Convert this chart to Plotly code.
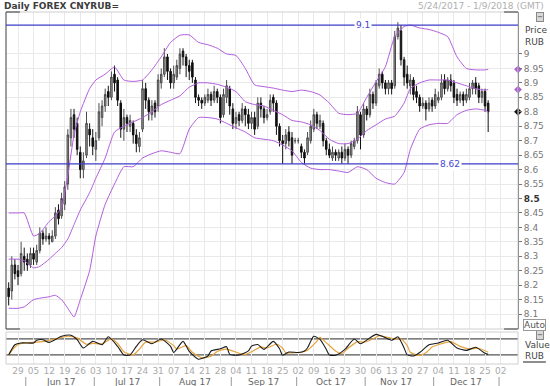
import plotly.graph_objects as go
import pandas as pd

TITLE = "Daily FOREX CNYRUB="
RANGE_TEXT = "5/24/2017 - 1/9/2018 (GMT)"

# trading days 24 May 2017 .. 26 Dec 2017
DATES = pd.bdate_range("2017-05-24", "2017-12-26")

OPEN = [8.19, 8.18, 8.27, 8.25, 8.24, 8.30, 8.29, 8.27, 8.31, 8.28,
        8.32, 8.38, 8.36, 8.37, 8.35, 8.37, 8.46, 8.44, 8.48, 8.55,
        8.71, 8.79, 8.76, 8.66, 8.60, 8.65, 8.74, 8.71, 8.67, 8.71,
        8.78, 8.82, 8.87, 8.85, 8.93, 8.91, 8.83, 8.74, 8.78, 8.75,
        8.76, 8.72, 8.68, 8.74, 8.88, 8.84, 8.79, 8.83, 8.82, 8.90,
        8.93, 8.99, 8.94, 8.90, 8.92, 8.95, 9.01, 8.99, 8.96, 8.97,
        8.91, 8.85, 8.84, 8.83, 8.84, 8.86, 8.84, 8.87, 8.85, 8.79,
        8.85, 8.88, 8.81, 8.76, 8.79, 8.77, 8.81, 8.79, 8.76, 8.78,
        8.75, 8.83, 8.81, 8.78, 8.80, 8.85, 8.83, 8.75, 8.70, 8.69,
        8.73, 8.71, 8.70, 8.70, 8.68, 8.66, 8.66, 8.70, 8.74, 8.79,
        8.75, 8.76, 8.70, 8.67, 8.64, 8.66, 8.64, 8.66, 8.64, 8.67,
        8.65, 8.68, 8.70, 8.79, 8.72, 8.81, 8.79, 8.86, 8.83, 8.89,
        8.93, 8.90, 8.88, 8.90, 8.89, 9.06, 9.08, 8.98, 8.93, 8.89,
        8.91, 8.87, 8.85, 8.82, 8.83, 8.81, 8.84, 8.82, 8.84, 8.85,
        8.91, 8.88, 8.91, 8.90, 8.86, 8.84, 8.86, 8.84, 8.85, 8.88,
        8.90, 8.89, 8.85, 8.87, 8.83]
HIGH = [8.21, 8.30, 8.29, 8.27, 8.35, 8.33, 8.31, 8.33, 8.33, 8.34,
        8.40, 8.39, 8.40, 8.38, 8.39, 8.47, 8.48, 8.52, 8.56, 8.74,
        8.81, 8.81, 8.78, 8.68, 8.66, 8.80, 8.76, 8.74, 8.73, 8.83,
        8.84, 8.88, 8.89, 8.94, 8.96, 8.92, 8.84, 8.81, 8.79, 8.79,
        8.77, 8.74, 8.73, 8.91, 8.90, 8.85, 8.84, 8.84, 8.93, 8.95,
        9.02, 9.00, 8.95, 8.96, 8.98, 9.02, 9.02, 9.00, 8.98, 8.98,
        8.92, 8.86, 8.85, 8.86, 8.88, 8.87, 8.89, 8.88, 8.86, 8.88,
        8.91, 8.89, 8.83, 8.80, 8.80, 8.83, 8.82, 8.81, 8.80, 8.80,
        8.85, 8.85, 8.82, 8.81, 8.86, 8.86, 8.84, 8.76, 8.72, 8.74,
        8.75, 8.73, 8.71, 8.71, 8.69, 8.67, 8.73, 8.77, 8.81, 8.80,
        8.79, 8.77, 8.71, 8.69, 8.68, 8.67, 8.67, 8.68, 8.69, 8.68,
        8.70, 8.71, 8.82, 8.80, 8.83, 8.82, 8.88, 8.87, 8.91, 8.95,
        8.94, 8.91, 8.91, 8.91, 9.08, 9.11, 9.10, 8.99, 8.96, 8.93,
        8.92, 8.89, 8.86, 8.85, 8.84, 8.85, 8.85, 8.88, 8.87, 8.93,
        8.93, 8.92, 8.93, 8.91, 8.88, 8.87, 8.87, 8.88, 8.90, 8.91,
        8.92, 8.90, 8.88, 8.88, 8.84]
LOW = [8.13, 8.15, 8.22, 8.20, 8.23, 8.25, 8.25, 8.26, 8.27, 8.27,
       8.31, 8.34, 8.35, 8.34, 8.35, 8.36, 8.41, 8.43, 8.46, 8.53,
       8.68, 8.71, 8.65, 8.57, 8.57, 8.64, 8.68, 8.65, 8.63, 8.70,
       8.75, 8.80, 8.82, 8.84, 8.87, 8.82, 8.71, 8.70, 8.73, 8.73,
       8.69, 8.66, 8.66, 8.73, 8.81, 8.77, 8.77, 8.78, 8.80, 8.88,
       8.92, 8.91, 8.88, 8.88, 8.91, 8.93, 8.96, 8.92, 8.91, 8.90,
       8.83, 8.82, 8.81, 8.82, 8.83, 8.82, 8.83, 8.83, 8.76, 8.78,
       8.83, 8.79, 8.74, 8.74, 8.75, 8.76, 8.75, 8.74, 8.74, 8.72,
       8.74, 8.78, 8.76, 8.77, 8.79, 8.80, 8.72, 8.68, 8.62, 8.67,
       8.68, 8.62, 8.69, 8.69, 8.64, 8.62, 8.65, 8.69, 8.73, 8.74,
       8.74, 8.68, 8.65, 8.64, 8.63, 8.63, 8.63, 8.62, 8.63, 8.62,
       8.64, 8.67, 8.69, 8.67, 8.71, 8.77, 8.78, 8.81, 8.82, 8.88,
       8.88, 8.86, 8.86, 8.86, 8.88, 9.05, 8.96, 8.89, 8.88, 8.86,
       8.84, 8.83, 8.80, 8.81, 8.77, 8.80, 8.80, 8.81, 8.83, 8.84,
       8.86, 8.87, 8.87, 8.83, 8.82, 8.83, 8.82, 8.83, 8.84, 8.86,
       8.86, 8.83, 8.83, 8.80, 8.73]
CLOSE = [8.16, 8.27, 8.24, 8.23, 8.31, 8.28, 8.27, 8.31, 8.29, 8.32,
         8.38, 8.36, 8.37, 8.36, 8.37, 8.45, 8.43, 8.50, 8.54, 8.72,
         8.78, 8.74, 8.67, 8.60, 8.63, 8.76, 8.72, 8.68, 8.70, 8.80,
         8.82, 8.86, 8.85, 8.92, 8.90, 8.84, 8.74, 8.78, 8.76, 8.77,
         8.72, 8.69, 8.71, 8.88, 8.84, 8.80, 8.82, 8.80, 8.91, 8.93,
         8.99, 8.94, 8.90, 8.93, 8.96, 9.00, 8.99, 8.96, 8.94, 8.92,
         8.85, 8.84, 8.83, 8.85, 8.86, 8.84, 8.87, 8.85, 8.78, 8.86,
         8.89, 8.82, 8.76, 8.78, 8.77, 8.81, 8.79, 8.76, 8.78, 8.74,
         8.83, 8.81, 8.78, 8.79, 8.84, 8.83, 8.75, 8.70, 8.69, 8.72,
         8.70, 8.65, 8.70, 8.70, 8.66, 8.64, 8.71, 8.75, 8.79, 8.76,
         8.77, 8.70, 8.67, 8.65, 8.66, 8.65, 8.66, 8.64, 8.67, 8.65,
         8.69, 8.70, 8.80, 8.72, 8.81, 8.79, 8.86, 8.83, 8.90, 8.93,
         8.90, 8.88, 8.90, 8.88, 9.06, 9.09, 8.98, 8.92, 8.90, 8.91,
         8.86, 8.85, 8.82, 8.83, 8.81, 8.83, 8.82, 8.86, 8.85, 8.90,
         8.88, 8.91, 8.89, 8.85, 8.84, 8.86, 8.84, 8.86, 8.88, 8.90,
         8.88, 8.85, 8.87, 8.82, 8.80]

# Bollinger bands, read at sample trading days (index into DATES)
BAND_IDX = [0, 3, 5, 8, 10, 13, 15, 17, 19, 21, 23, 26, 28, 31, 34, 37, 40, 43, 46, 49,
            52, 55, 58, 61, 64, 67, 70, 73, 76, 79, 82, 85, 88, 91, 94, 97, 100, 103, 106, 109,
            112, 115, 118, 121, 124, 127, 129, 132, 135, 138, 141, 144, 147, 150, 153, 154]
BB_UPPER = [8.45, 8.45, 8.45, 8.37, 8.38, 8.42, 8.44, 8.47, 8.58, 8.72,
            8.80, 8.88, 8.91, 8.93, 8.955, 8.91, 8.905, 8.91, 8.945, 8.99,
            9.04, 9.065, 9.066, 9.04, 9.032, 9.02, 9.00, 8.995, 8.95, 8.893,
            8.887, 8.882, 8.875, 8.87, 8.875, 8.87, 8.858, 8.83, 8.795, 8.79,
            8.795, 8.85, 8.904, 8.956, 9.06, 9.095, 9.10, 9.09, 9.085, 9.075,
            9.06, 8.99, 8.95, 8.945, 8.945, 8.947]
BB_MID = [8.29, 8.29, 8.285, 8.26, 8.265, 8.29, 8.31, 8.33, 8.36, 8.41,
          8.46, 8.52, 8.57, 8.64, 8.73, 8.75, 8.765, 8.78, 8.80, 8.825,
          8.84, 8.855, 8.885, 8.90, 8.90, 8.895, 8.885, 8.87, 8.835, 8.825,
          8.82, 8.805, 8.79, 8.77, 8.765, 8.755, 8.735, 8.705, 8.69, 8.69,
          8.705, 8.735, 8.755, 8.775, 8.785, 8.83, 8.88, 8.90, 8.91, 8.91,
          8.91, 8.90, 8.89, 8.88, 8.875, 8.877]
BB_LOWER = [8.12, 8.12, 8.125, 8.15, 8.155, 8.16, 8.165, 8.15, 8.12, 8.09,
            8.15, 8.25, 8.37, 8.48, 8.55, 8.61, 8.61, 8.64, 8.655, 8.665,
            8.66, 8.655, 8.74, 8.78, 8.78, 8.775, 8.76, 8.745, 8.73, 8.71,
            8.705, 8.70, 8.685, 8.665, 8.625, 8.605, 8.60, 8.60, 8.595, 8.59,
            8.61, 8.60, 8.57, 8.555, 8.55, 8.59, 8.67, 8.74, 8.755, 8.76,
            8.76, 8.79, 8.805, 8.81, 8.805, 8.80]

# Stochastic oscillator (%K black, %D orange)
K_IDX = [0, 2, 4, 8, 9, 11, 13, 17, 20, 22, 24, 27, 30, 32, 35, 37, 39, 41, 43, 46,
         49, 52, 53, 56, 58, 61, 64, 65, 68, 70, 71, 74, 77, 78, 80, 82, 85, 87, 88, 90,
         93, 95, 96, 98, 100, 102, 103, 105, 108, 111, 113, 116, 118, 120, 123, 125, 127, 128, 130, 132,
         135, 138, 141, 144, 147, 150, 153, 154]
K_VAL = [20, 58, 65, 65, 75, 77, 67, 90, 94, 77, 46, 71, 58, 88, 52, 20, 20, 52, 77, 62,
         80, 52, 29, 71, 33, 4, 16, 35, 43, 51, 22, 20, 35, 53, 59, 41, 71, 43, 19, 31,
         29, 35, 47, 90, 78, 41, 20, 19, 41, 80, 62, 84, 97, 90, 75, 88, 46, 20, 16, 29,
         58, 65, 75, 46, 37, 49, 26, 22]
D_IDX = [0, 2, 4, 9, 12, 15, 19, 22, 25, 27, 30, 33, 35, 37, 40, 42, 44, 47, 50, 53,
         54, 57, 59, 62, 65, 67, 70, 74, 76, 78, 81, 83, 86, 88, 89, 91, 94, 96, 99, 100,
         102, 105, 107, 109, 112, 114, 117, 119, 121, 124, 126, 128, 129, 132, 134, 136, 139, 142, 145, 148,
         151, 154]
D_VAL = [20, 50, 63, 68, 72, 80, 90, 84, 60, 63, 62, 80, 63, 32, 20, 42, 68, 68, 76, 55,
         42, 55, 30, 10, 15, 33, 42, 26, 22, 32, 50, 46, 60, 45, 28, 28, 30, 38, 72, 86,
         66, 35, 25, 45, 70, 68, 80, 92, 88, 80, 80, 55, 30, 18, 28, 50, 62, 70, 52, 42,
         45, 30]

LEVEL_HI = 9.1
LEVEL_LO = 8.62
STOCH_LEVELS = [80, 20]

PRICE_TICKS = [8.1, 8.15, 8.2, 8.25, 8.3, 8.35, 8.4, 8.45, 8.5, 8.55,
               8.6, 8.65, 8.7, 8.75, 8.8, 8.85, 8.9, 8.95, 9.0]
PRICE_TICK_TEXT = ["8.1", "8.15", "8.2", "8.25", "8.3", "8.35", "8.4", "8.45",
                   "<b><span style='color:#333'>8.5</span></b>", "8.55",
                   "8.6", "8.65", "8.7", "8.75", "8.8", "8.85", "8.9", "8.95", "9"]

WEEK_TICKS = ["2017-05-29", "2017-06-05", "2017-06-12", "2017-06-19", "2017-06-26",
              "2017-07-03", "2017-07-10", "2017-07-17", "2017-07-24", "2017-07-31",
              "2017-08-07", "2017-08-14", "2017-08-21", "2017-08-28", "2017-09-04",
              "2017-09-11", "2017-09-18", "2017-09-25", "2017-10-02", "2017-10-09",
              "2017-10-16", "2017-10-23", "2017-10-30", "2017-11-06", "2017-11-13",
              "2017-11-20", "2017-11-27", "2017-12-04", "2017-12-11", "2017-12-18",
              "2017-12-25", "2018-01-02"]
WEEK_LABELS = ["29", "05", "12", "19", "26", "03", "10", "17", "24", "31", "07", "14",
               "21", "28", "04", "11", "18", "25", "02", "09", "16", "23", "30", "06",
               "13", "20", "27", "04", "11", "18", "25", "02"]
MONTH_LABELS = ["Jun 17", "Jul 17", "Aug 17", "Sep 17", "Oct 17", "Nov 17", "Dec 17"]
MONTH_CENTERS = ["2017-06-16 00:00", "2017-07-17 12:00", "2017-08-16 12:00",
                 "2017-09-15 12:00", "2017-10-17 00:00", "2017-11-15 00:00",
                 "2017-12-15 12:00"]
MONTH_STARTS = ["2017-06-01", "2017-07-03", "2017-08-01", "2017-09-01",
                "2017-10-02", "2017-11-01", "2017-12-01", "2018-01-02"]

X_RANGE = ["2017-05-23 15:30", "2018-01-10 02:00"]

# ---------------------------------------------------------------------------
FONT = "DejaVu Sans"
BAND_COLOR = "#b25ddc"
LEVEL_COLOR = "#3c3cc8"

day_x = [d + pd.Timedelta(hours=12) for d in DATES]
band_x = [day_x[i] for i in BAND_IDX]
k_x = [day_x[i] for i in K_IDX]
d_x = [day_x[i] for i in D_IDX]
week_x = [pd.Timestamp(t) + pd.Timedelta(hours=12) for t in WEEK_TICKS]

fig = go.Figure()

for vals in (BB_UPPER, BB_MID, BB_LOWER):
    fig.add_trace(go.Scatter(x=band_x, y=vals, mode="lines",
                             line=dict(color=BAND_COLOR, width=1, shape="spline", smoothing=0.5),
                             xaxis="x", yaxis="y", hoverinfo="skip", showlegend=False))

fig.add_trace(go.Candlestick(
    x=day_x, open=OPEN, high=HIGH, low=LOW, close=CLOSE,
    increasing=dict(line=dict(color="#4a4a4a", width=1), fillcolor="#9a9a9a"),
    decreasing=dict(line=dict(color="#111111", width=1), fillcolor="#111111"),
    whiskerwidth=0, xaxis="x", yaxis="y", showlegend=False))

# last-value markers on the price axis
fig.add_trace(go.Scatter(
    x=[X_RANGE[1]] * 3, y=[BB_UPPER[-1], BB_MID[-1], CLOSE[-1]], mode="markers",
    marker=dict(symbol="diamond", size=6, color=[BAND_COLOR, BAND_COLOR, "#111"]),
    cliponaxis=False, xaxis="x", yaxis="y", hoverinfo="skip", showlegend=False))

fig.add_trace(go.Scatter(x=d_x, y=D_VAL, mode="lines",
                         line=dict(color="#e6a23c", width=1.2, shape="spline", smoothing=0.6),
                         xaxis="x2", yaxis="y2", hoverinfo="skip", showlegend=False))
fig.add_trace(go.Scatter(x=k_x, y=K_VAL, mode="lines",
                         line=dict(color="#1a1a1a", width=1.1, shape="spline", smoothing=0.6),
                         xaxis="x2", yaxis="y2", hoverinfo="skip", showlegend=False))

W, H = 550, 386
ML, MR, MT, MB = 6, 29, 12, 22
PW, PH = W - ML - MR, H - MT - MB


def px(x):
    return (x - ML) / PW


def py(y):
    return (H - MB - y) / PH


price_bottom = py(329)
ind_top = py(332)

breaks = [dict(bounds=["sat", "mon"]), dict(values=["2018-01-01"])]
xcommon = dict(type="date", range=X_RANGE, rangebreaks=breaks, tickmode="array",
               tickvals=week_x, showgrid=True, gridcolor="#e9e9e9", gridwidth=1,
               zeroline=False, showline=False, ticks="")

fig.update_layout(
    width=W, height=H, margin=dict(l=ML, r=MR, t=MT, b=MB),
    paper_bgcolor="white", plot_bgcolor="white",
    font=dict(family=FONT, size=9, color="#777"),
    xaxis=dict(**xcommon, anchor="y", domain=[0, 1], showticklabels=False,
               rangeslider=dict(visible=False), matches="x2"),
    xaxis2=dict(**xcommon, anchor="y2", domain=[0, 1], ticktext=WEEK_LABELS,
                showticklabels=True, tickfont=dict(size=9, color="#aaa", family=FONT)),
    yaxis=dict(domain=[price_bottom, 1], range=[8.0484, 9.1453], side="right",
               tickmode="array", tickvals=PRICE_TICKS, ticktext=PRICE_TICK_TEXT,
               ticks="outside", ticklen=3, tickcolor="#777", showline=True,
               linecolor="#555", linewidth=1, showgrid=True, gridcolor="#e9e9e9",
               zeroline=False, tickfont=dict(size=9, color="#777", family=FONT)),
    yaxis2=dict(domain=[0, ind_top], range=[-14, 106], side="right", showticklabels=False,
                showgrid=False, zeroline=False, ticks=""),
    hovermode=False,
)

shapes = []
# frames
shapes.append(dict(type="rect", xref="paper", yref="paper", x0=0, x1=1, y0=price_bottom, y1=1,
                   line=dict(color="#cfcfcf", width=1)))
shapes.append(dict(type="rect", xref="paper", yref="paper", x0=0, x1=1, y0=0, y1=ind_top,
                   line=dict(color="#cfcfcf", width=1)))
shapes.append(dict(type="line", xref="paper", yref="paper", x0=0, x1=0, y0=price_bottom, y1=1,
                   line=dict(color="#555", width=1)))
for yy in (price_bottom, 1):
    shapes.append(dict(type="line", xref="paper", yref="paper", x0=0, x1=px(20), y0=yy, y1=yy,
                       line=dict(color="#555", width=1.2)))
    shapes.append(dict(type="line", xref="paper", yref="paper", x0=px(507), x1=1, y0=yy, y1=yy,
                       line=dict(color="#555", width=1.2)))
# support / resistance levels
for lv in (LEVEL_HI, LEVEL_LO):
    shapes.append(dict(type="line", xref="paper", yref="y", x0=0, x1=1, y0=lv, y1=lv,
                       line=dict(color=LEVEL_COLOR, width=1.3)))
# stochastic levels
for lv in STOCH_LEVELS:
    shapes.append(dict(type="line", xref="paper", yref="y2", x0=0, x1=1, y0=lv, y1=lv,
                       line=dict(color="#555", width=1.3), layer="below"))
# month separators
for ms in MONTH_STARTS:
    shapes.append(dict(type="line", xref="x2", yref="paper", x0=ms, x1=ms,
                       y0=py(377), y1=py(386), line=dict(color="#9a9a9a", width=1)))
# underline under indicator unit
shapes.append(dict(type="line", xref="paper", yref="paper", x0=px(526), x1=px(549),
                   y0=py(362), y1=py(362), line=dict(color="#444", width=1.2)))

annotations = []
annotations.append(dict(text="<b>" + TITLE + "</b>", xref="paper", yref="paper", x=px(2), y=py(6),
                        xanchor="left", yanchor="middle", showarrow=False,
                        font=dict(size=9, color="#3c3c3c", family=FONT)))
annotations.append(dict(text=RANGE_TEXT, xref="paper", yref="paper", x=px(549), y=py(6),
                        xanchor="right", yanchor="middle", showarrow=False,
                        font=dict(size=9, color="#b0b0b0", family=FONT)))
for txt, yy in (("Price", 30), ("RUB", 42), ("Value", 345), ("RUB", 356)):
    annotations.append(dict(text=txt, xref="paper", yref="paper", x=px(526), y=py(yy),
                            xanchor="left", yanchor="middle", showarrow=False,
                            font=dict(size=9, color="#444", family=FONT)))
for yy in (17, 335):
    annotations.append(dict(text="−", xref="paper", yref="paper", x=px(543), y=py(yy),
                            xanchor="center", yanchor="middle", showarrow=False,
                            bgcolor="#d8d8d8", bordercolor="#888", borderwidth=1, borderpad=0,
                            font=dict(size=7, color="#333", family=FONT)))
annotations.append(dict(text="Auto", xref="paper", yref="paper", x=px(538), y=py(325),
                        xanchor="center", yanchor="middle", showarrow=False,
                        bordercolor="#999", borderwidth=1, borderpad=0,
                        font=dict(size=9, color="#555", family=FONT)))
annotations.append(dict(text=str(LEVEL_HI), xref="paper", yref="y", x=px(365), y=LEVEL_HI,
                        xanchor="center", yanchor="middle", showarrow=False, bgcolor="white",
                        borderpad=1, font=dict(size=9, color="#4646d0", family=FONT)))
annotations.append(dict(text=str(LEVEL_LO), xref="paper", yref="y", x=px(453), y=LEVEL_LO,
                        xanchor="center", yanchor="middle", showarrow=False, bgcolor="white",
                        borderpad=1, font=dict(size=9, color="#4646d0", family=FONT)))
for lab, c in zip(MONTH_LABELS, MONTH_CENTERS):
    annotations.append(dict(text=lab, xref="x2", yref="paper", x=c, y=py(382),
                            xanchor="center", yanchor="middle", showarrow=False,
                            font=dict(size=9, color="#666", family=FONT)))

fig.update_layout(shapes=shapes, annotations=annotations)
fig.write_html("out.html")
